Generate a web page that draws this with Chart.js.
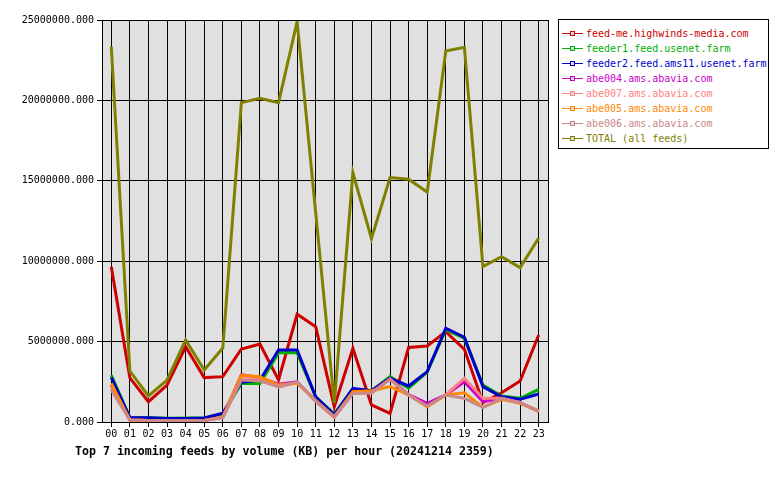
<!DOCTYPE html>
<html>
<head>
<meta charset="utf-8">
<script src="https://cdn.jsdelivr.net/npm/chart.js@4/dist/chart.umd.min.js"></script>
<style>
  body { margin: 0; background: #fff; }
  #wrap { position: relative; width: 780px; height: 480px; }
  #chart { position: absolute; left: 0; top: 0; }
  #legend {
    position: absolute; left: 558px; top: 19px; width: 211px; height: 130px;
    border: 1px solid #000; background: #fff; box-sizing: border-box;
    font: 10px "DejaVu Sans Mono", monospace; padding-top: 6px;
  }
  #legend .row { height: 15px; line-height: 15px; white-space: nowrap; position: relative; }
  #legend .mark { position: absolute; left: 3px; top: 7px; width: 21px; height: 0; border-top: 1px solid; }
  #legend .mark i { position: absolute; left: 8px; top: -3px; width: 3px; height: 3px; border: 1px solid; background: #e0e0e0; }
  #legend .txt { position: absolute; left: 27px; top: 0; }
  #title {
    position: absolute; left: 75px; top: 444px;
    font: bold 11.6px "DejaVu Sans Mono", monospace; color: #000; white-space: nowrap;
  }
</style>
</head>
<body>
<div id="wrap">
  <canvas id="chart" width="780" height="480"></canvas>
  <div id="legend"></div>
  <div id="title">Top 7 incoming feeds by volume (KB) per hour (20241214 2359)</div>
</div>
<script>
const hours = ['00','01','02','03','04','05','06','07','08','09','10','11',
               '12','13','14','15','16','17','18','19','20','21','22','23']

// KB per hour
const feedMe   = [9660000, 2740000, 1260000, 2300000, 4680000, 2760000, 2820000, 4540000, 4850000, 2610000, 6700000, 5930000,
                  950000, 4580000, 1060000, 540000, 4640000, 4730000, 5620000, 4520000, 1200000, 1820000, 2550000, 5410000]
const feeder1  = [2920000, 270000, 270000, 230000, 250000, 250000, 500000, 2400000, 2400000, 4300000, 4300000, 1550000,
                  500000, 2050000, 1950000, 2820000, 2100000, 3100000, 5750000, 5200000, 2300000, 1620000, 1470000, 2030000]
const feeder2  = [2780000, 270000, 270000, 220000, 220000, 250000, 540000, 2470000, 2600000, 4480000, 4480000, 1570000,
                  450000, 2090000, 1950000, 2720000, 2240000, 3130000, 5830000, 5270000, 2200000, 1570000, 1410000, 1740000]
const abe004   = [2300000, 120000, 100000, 100000, 100000, 100000, 300000, 2950000, 2750000, 2350000, 2500000, 1300000,
                  300000, 1800000, 1850000, 2700000, 1700000, 1160000, 1680000, 2500000, 1260000, 1470000, 1200000, 680000]
const abe007   = [2200000, 120000, 100000, 100000, 100000, 100000, 300000, 2820000, 2700000, 2160000, 2450000, 1300000,
                  300000, 1800000, 1800000, 2650000, 1680000, 1000000, 1680000, 2720000, 1470000, 1470000, 1200000, 660000]
const abe005   = [2400000, 120000, 100000, 100000, 100000, 100000, 300000, 2920000, 2820000, 2300000, 2420000, 1350000,
                  330000, 1880000, 1950000, 2200000, 1680000, 950000, 1680000, 1820000, 910000, 1410000, 1160000, 680000]
const abe006   = [1990000, 120000, 100000, 100000, 100000, 100000, 250000, 2610000, 2550000, 2200000, 2500000, 1300000,
                  330000, 1780000, 1800000, 2650000, 1680000, 1000000, 1680000, 1470000, 910000, 1470000, 1200000, 640000]
const totalAll = [23340000, 3170000, 1620000, 2610000, 5100000, 3230000, 4600000, 19860000, 20130000, 19860000, 24900000, 13000000,
                  1180000, 15500000, 11400000, 15200000, 15100000, 14300000, 23070000, 23300000, 9660000, 10280000, 9600000, 11440000]

const feedNames = ['feed-me.highwinds-media.com', 'feeder1.feed.usenet.farm', 'feeder2.feed.ams11.usenet.farm',
                   'abe004.ams.abavia.com', 'abe007.ams.abavia.com', 'abe005.ams.abavia.com',
                   'abe006.ams.abavia.com', 'TOTAL (all feeds)']
const feedValues = [feedMe, feeder1, feeder2, abe004, abe007, abe005, abe006, totalAll]
const feedColors = ['#cc0000', '#00b000', '#0000cc', '#cc00cc', '#ff8080', '#ff8800', '#cc8888', '#808000']

const yTicks = { min: 0, max: 25000000, step: 5000000 }

const monoFont = { family: '"DejaVu Sans Mono", monospace', size: 10 }

// grey plot area plus a closing frame on the top/right
const plotFrame = {
  id: 'plotFrame',
  beforeDraw(chart) {
    const { ctx, chartArea: a } = chart
    ctx.save()
    ctx.fillStyle = '#e0e0e0'
    ctx.fillRect(a.left, a.top, a.right - a.left, a.bottom - a.top)
    ctx.restore()
  },
  afterDraw(chart) {
    const { ctx, chartArea: a } = chart
    ctx.save()
    ctx.strokeStyle = '#000'
    ctx.lineWidth = 1
    ctx.strokeRect(a.left + 0.5, a.top + 0.5, a.right - a.left, a.bottom - a.top)
    ctx.restore()
  }
}

const datasets = feedNames.map((name, i) => ({
  label: name,
  data: feedValues[i],
  borderColor: feedColors[i],
  backgroundColor: feedColors[i],
  borderWidth: 3,
  pointRadius: 0,
  tension: 0,
  fill: false,
  order: feedNames.length - i // later feeds drawn on top
}))

const chart = new Chart(document.getElementById('chart'), {
  type: 'line',
  data: { labels: hours, datasets: datasets },
  options: {
    responsive: false,
    animation: false,
    layout: { padding: { left: 0, right: 232, top: 20, bottom: 0 } },
    plugins: {
      legend: { display: false },
      title: { display: false },
      tooltip: { enabled: false }
    },
    scales: {
      x: {
        offset: true,
        grid: { color: '#000', lineWidth: 1, tickLength: 5, offset: false },
        border: { color: '#000' },
        ticks: { color: '#000', font: monoFont, padding: 1, maxRotation: 0, autoSkip: false },
        afterFit: (s) => { s.height = 58 }
      },
      y: {
        min: yTicks.min,
        max: yTicks.max,
        grid: { color: '#000', lineWidth: 1, tickLength: 5 },
        border: { color: '#000' },
        ticks: {
          stepSize: yTicks.step,
          color: '#000',
          font: monoFont,
          padding: 3,
          callback: (v) => Number(v).toFixed(3)
        },
        afterFit: (s) => { s.width = 102 }
      }
    }
  },
  plugins: [plotFrame]
})

// legend box on the right
const legendEl = document.getElementById('legend')
chart.data.datasets.forEach((ds) => {
  const row = document.createElement('div')
  row.className = 'row'
  row.innerHTML = '<span class="mark" style="border-color:' + ds.borderColor + '"><i style="border-color:' +
    ds.borderColor + '"></i></span><span class="txt" style="color:' + ds.borderColor + '">' + ds.label + '</span>'
  legendEl.appendChild(row)
})
</script>
</body>
</html>
